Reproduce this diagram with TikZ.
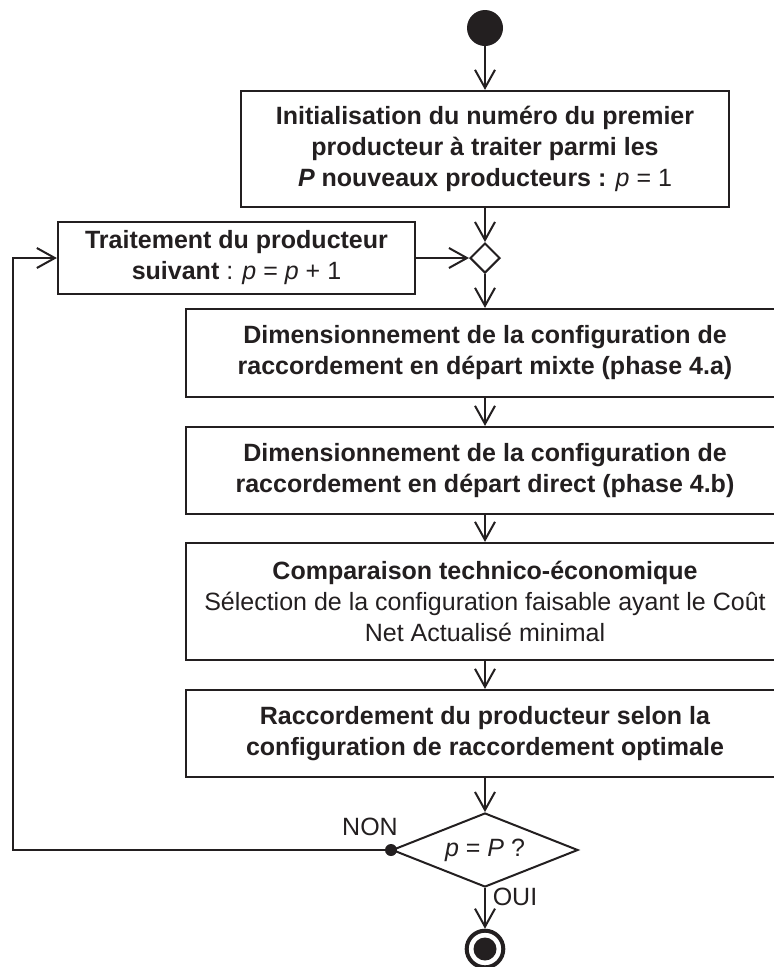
\documentclass[tikz,border=0pt]{standalone}
\usepackage{fontspec}
\setmainfont{Liberation Sans}
\usetikzlibrary{arrows.meta,shapes.geometric}
\definecolor{ink}{RGB}{35,31,32}
\begin{document}
\begin{tikzpicture}[x=1pt,y=-1pt,
  every node/.style={font=\fontsize{25}{31}\selectfont, text=ink},
  box/.style={draw=ink, line width=2.2pt, align=center, inner sep=0pt, rectangle},
  conn/.style={draw=ink, line width=2pt, -{Straight Barb[length=18pt,width=20pt]}},
  dec/.style={diamond, draw=ink, line width=2pt, inner sep=0pt},
]
\useasboundingbox (0,0) rectangle (774,967);
\clip (0,0) rectangle (774,967);
\fill[white] (0,0) rectangle (774,967);

\node[circle, fill=ink, minimum size=36pt, inner sep=0pt] (start) at (485,28) {};
\node[box, minimum width=488pt, minimum height=116pt] (init) at (485,149)
  {\textbf{Initialisation du numéro du premier}\\
   \textbf{producteur à traiter parmi les}\\
   \textbf{\textit{P} nouveaux producteurs :} \textit{p} = 1};
\node[dec, minimum width=30pt, minimum height=30pt] (d1) at (485,258) {};
\node[box, minimum width=357pt, minimum height=72pt] (trait) at (236.5,258)
  {\textbf{Traitement du producteur}\\
   \textbf{suivant} : \textit{p} = \textit{p} + 1};
\node[box, minimum width=598pt, minimum height=88pt] (b2) at (485,353)
  {\textbf{Dimensionnement de la configuration de}\\
   \textbf{raccordement en départ mixte (phase 4.a)}};
\node[box, minimum width=598pt, minimum height=87pt] (b3) at (485,470.5)
  {\textbf{Dimensionnement de la configuration de}\\
   \textbf{raccordement en départ direct (phase 4.b)}};
\node[box, minimum width=598pt, minimum height=117pt] (b4) at (485,601.5)
  {\textbf{Comparaison technico-économique}\\
   Sélection de la configuration faisable ayant le Coût\\
   Net Actualisé minimal};
\node[box, minimum width=598pt, minimum height=87pt] (b5) at (485,733.5)
  {\textbf{Raccordement du producteur selon la}\\
   \textbf{configuration de raccordement optimale}};
\node[dec, aspect=2.5, minimum width=186pt, minimum height=74pt] (d2) at (485,850)
  {\textit{p} = \textit{P} ?};
\node[circle, fill=ink, minimum size=12pt, inner sep=0pt] (dot) at (d2.west) {};
\node[circle, draw=ink, line width=4pt, minimum size=36.6pt, inner sep=0pt] (end) at (485,949) {};
\node[circle, fill=ink, minimum size=23pt, inner sep=0pt] (endin) at (end.center) {};

\node (non) at (370,827) {NON};
\node (oui) at (515,897) {OUI};
\coordinate (lx) at (13,0);

\draw[conn] (start.south) -- (init.north);
\draw[conn] (init.south) -- (d1.north);
\draw[conn] (d1.south) -- (b2.north);
\draw[conn] (b2.south) -- (b3.north);
\draw[conn] (b3.south) -- (b4.north);
\draw[conn] (b4.south) -- (b5.north);
\draw[conn] (b5.south) -- (d2.north);
\draw[conn] (d2.south) -- (end.north);
\draw[conn] (trait.east) -- (d1.west);
\draw[conn] (dot.center) -- (dot.center -| lx) |- (trait.west);
\end{tikzpicture}
\end{document}
